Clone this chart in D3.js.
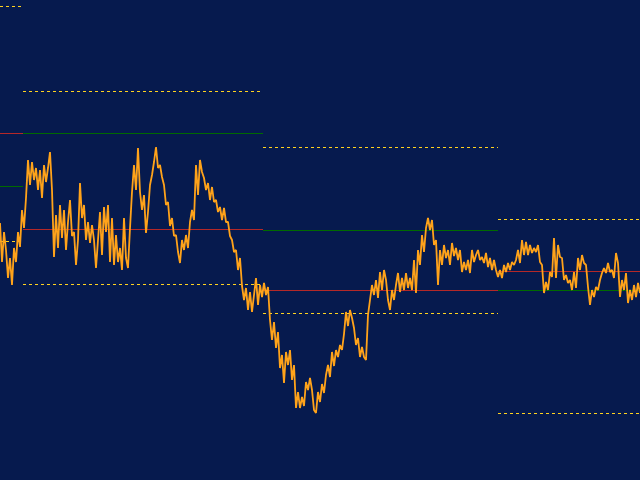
<!DOCTYPE html>
<html>
<head>
<meta charset="utf-8">
<script src="https://cdn.jsdelivr.net/npm/d3@7/dist/d3.min.js"></script>
<style>
html,body{margin:0;padding:0;background:#061a4e;overflow:hidden;}
svg{display:block;}
</style>
</head>
<body>
<svg id="chart" width="640" height="480"></svg>
<script>
// ---- data (time in bars, price in points) ----
const periodStart = [0, 23, 263, 498];
const periodEnd   = [23, 263, 498, 640];
const resistance  = [474, 389, 333, 261];
const pivot       = [347, 251, 190, 209];
const prevPivot   = [294, 347, 250, 190];
const support     = [239, 196, 167, 67];

const tickStep = 2; // bars between price samples
const price = [
257,218,248,230,202,222,195,232,218,248,233,270,252,282,320,295,318,300,312,290,
310,282,315,298,312,328,290,223,265,232,275,242,270,230,258,280,244,248,215,240,
297,262,275,240,258,237,255,240,212,240,268,225,273,248,275,218,262,215,245,218,
232,210,262,222,212,252,288,315,290,332,288,270,285,247,268,295,305,318,333,312,
315,303,295,275,278,254,262,244,245,228,217,240,230,245,232,258,270,260,315,285,
320,308,302,290,297,280,293,278,280,268,273,260,272,258,258,244,240,228,230,210,
222,194,180,192,170,188,168,185,202,175,195,183,197,185,193,160,140,158,132,148,
112,125,97,128,115,130,100,115,72,88,72,83,74,98,90,102,90,70,67,88,
78,96,87,105,115,103,128,114,130,123,135,130,146,168,154,170,162,152,135,142,
123,133,123,120,165,180,195,185,200,182,208,190,210,200,180,170,190,180,195,207,
188,202,190,207,192,202,190,220,187,230,215,245,228,252,262,250,260,235,240,195,
230,215,235,222,230,215,237,224,232,220,230,208,218,210,220,207,230,218,225,230,
220,223,217,227,213,222,210,220,210,203,210,202,215,208,217,210,218,215,220,230,
217,240,225,238,225,235,227,232,228,235,218,215,187,198,190,208,203,242,202,235,
223,222,200,205,197,200,190,208,192,222,210,225,217,215,193,175,190,183,193,190,
200,207,212,207,217,208,210,202,227,217,183,200,190,207,177,190,180,195,183,197,
187
];

// ---- layout ----
const W = 640, H = 480;
const svg = d3.select("#chart");
const x = d3.scaleLinear().domain([0, 640]).range([0, W]);
const y = d3.scaleLinear().domain([0, 480]).range([H, 0]);

svg.append("rect").attr("width", W).attr("height", H).attr("fill", "#061a4e");

const levels = [];
periodStart.forEach((s, i) => {
  levels.push({s, e: periodEnd[i], v: resistance[i], kind: "sr"});
  levels.push({s, e: periodEnd[i], v: support[i], kind: "sr"});
  levels.push({s, e: periodEnd[i], v: prevPivot[i], kind: "prev"});
  levels.push({s, e: periodEnd[i], v: pivot[i], kind: "pivot"});
});
const color = {sr: "#ffd21f", prev: "#006a00", pivot: "#b42828"};

svg.append("g").selectAll("line").data(levels).join("line")
  .attr("x1", d => x(d.s))
  .attr("x2", d => x(d.e))
  .attr("y1", d => Math.round(y(d.v)) + 0.5)
  .attr("y2", d => Math.round(y(d.v)) + 0.5)
  .attr("stroke", d => color[d.kind])
  .attr("stroke-width", 1)
  .attr("stroke-dasharray", d => d.kind === "sr" ? "3,3" : null)
  .attr("shape-rendering", "crispEdges");

const line = d3.line()
  .x((d, i) => x(i * tickStep))
  .y(d => y(d));

svg.append("path")
  .datum(price)
  .attr("d", line)
  .attr("fill", "none")
  .attr("stroke", "#ffa31a")
  .attr("stroke-width", 1.8)
  .attr("stroke-linejoin", "bevel");
</script>
</body>
</html>
